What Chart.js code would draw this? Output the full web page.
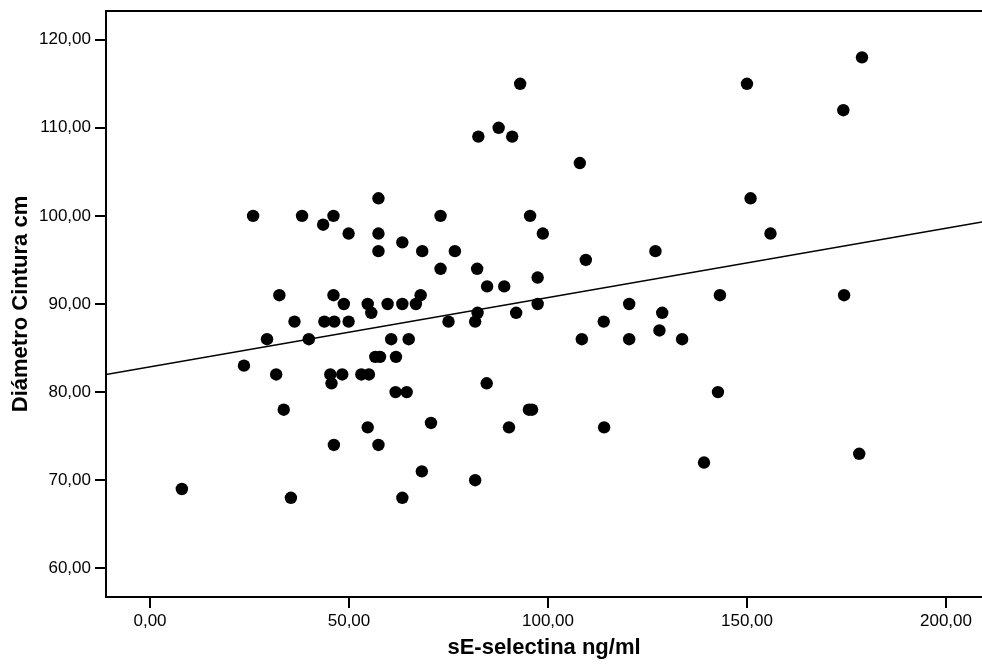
<!DOCTYPE html>
<html>
<head>
<meta charset="utf-8">
<script src="https://cdn.jsdelivr.net/npm/chart.js@4.4.0/dist/chart.umd.min.js"></script>
<style>
html,body{margin:0;padding:0;background:#ffffff;}
canvas{display:block;}
</style>
</head>
<body>
<canvas id="c" width="982" height="668"></canvas>
<script>
// ---- data ----
const xValues = [
  8.0, 23.6, 25.9, 29.4, 31.7, 32.5, 33.6, 35.4, 36.3, 38.2,
  39.9, 43.5, 43.8, 45.3, 45.6, 46.1, 46.1, 46.2, 46.3, 48.3,
  48.7, 49.9, 49.9, 53.1, 54.7, 54.7, 55.0, 55.6, 56.6, 57.4,
  57.4, 57.4, 57.4, 57.8, 59.7, 60.6, 61.8, 61.7, 63.4, 63.4,
  63.4, 64.5, 65.0, 66.8, 68.0, 68.3, 68.4, 70.6, 73.0, 73.0,
  75.0, 76.6, 81.7, 81.7, 82.3, 82.2, 82.5, 84.6, 84.7, 87.6,
  89.0, 90.2, 91.0, 92.0, 93.0, 95.2, 96.0, 95.5, 97.4, 97.4,
  98.7, 108.0, 108.5, 109.5, 114.0, 114.1, 120.4, 120.4, 127.0, 128.0,
  128.7, 133.7, 139.2, 142.7, 143.2, 150.0, 150.9, 155.9, 174.2, 174.4,
  178.2, 178.9
];
const yValues = [
  69, 83, 100, 86, 82, 91, 78, 68, 88, 100,
  86, 99, 88, 82, 81, 100, 91, 74, 88, 82,
  90, 98, 88, 82, 90, 76, 82, 89, 84, 102,
  98, 96, 74, 84, 90, 86, 84, 80, 97, 90,
  68, 80, 86, 90, 91, 71, 96, 76.5, 100, 94,
  88, 96, 88, 70, 89, 94, 109, 81, 92, 110,
  92, 76, 109, 89, 115, 78, 78, 100, 93, 90,
  98, 106, 86, 95, 88, 76, 90, 86, 96, 87,
  89, 86, 72, 80, 91, 115, 102, 98, 112, 91,
  73, 118
];
const xTicks = [0, 50, 100, 150, 200];
const yTicks = [60, 70, 80, 90, 100, 110, 120];
const xRange = [-11.06, 209.05];
const yRange = [56.74, 123.26];
const fitIntercept = 82.86;
const fitSlope = 0.0787;
const xTitle = 'sE-selectina ng/ml';
const yTitle = 'Diámetro Cintura cm';

// ---- build ----
const FONT = '"Liberation Sans", Arial, Helvetica, sans-serif';
const fmt = v => Number(v).toFixed(2).replace('.', ',');
const points = xValues.map((x, i) => ({x: x, y: yValues[i]}));
const fitLine = xRange.map(x => ({x: x, y: fitIntercept + fitSlope * x}));

// frame: top, left and bottom sides (right side lies at the canvas edge)
const framePlugin = {
  id: 'frame',
  beforeDatasetsDraw(chart) {
    const a = chart.chartArea, c = chart.ctx;
    c.save();
    c.strokeStyle = '#000';
    c.lineWidth = 2;
    c.beginPath();
    c.moveTo(chart.width + 2, a.top);
    c.lineTo(a.left, a.top);
    c.lineTo(a.left, a.bottom);
    c.lineTo(chart.width + 2, a.bottom);
    c.stroke();
    c.restore();
  }
};

new Chart(document.getElementById('c').getContext('2d'), {
  type: 'scatter',
  data: {
    datasets: [
      {
        type: 'scatter',
        data: points,
        pointRadius: 6.2,
        pointHoverRadius: 6.2,
        backgroundColor: '#000',
        borderWidth: 0,
        order: 1
      },
      {
        type: 'line',
        data: fitLine,
        borderColor: '#000',
        borderWidth: 1.5,
        pointRadius: 0,
        fill: false,
        tension: 0,
        order: 2
      }
    ]
  },
  options: {
    responsive: false,
    animation: false,
    devicePixelRatio: 1,
    layout: {autoPadding: false, padding: {left: 0, right: 0, top: 11, bottom: 0}},
    plugins: {legend: {display: false}, tooltip: {enabled: false}},
    scales: {
      x: {
        type: 'linear',
        min: xRange[0],
        max: xRange[1],
        afterBuildTicks: s => { s.ticks = xTicks.map(v => ({value: v})); },
        afterFit: s => { s.height = 71; s.paddingLeft = 0; s.paddingRight = 0; },
        grid: {drawOnChartArea: false, drawTicks: true, tickLength: 11, color: '#000', lineWidth: 2},
        border: {display: false},
        ticks: {
          font: {family: FONT, size: 17},
          color: '#000',
          padding: 3,
          maxRotation: 0,
          autoSkip: false,
          callback: v => fmt(v)
        },
        title: {
          display: true,
          text: xTitle,
          color: '#000',
          font: {family: FONT, size: 22, weight: 'bold'},
          padding: {top: 0, bottom: 7}
        }
      },
      y: {
        type: 'linear',
        min: yRange[0],
        max: yRange[1],
        afterBuildTicks: s => { s.ticks = yTicks.map(v => ({value: v})); },
        afterFit: s => { s.width = 106; s.paddingTop = 0; s.paddingBottom = 0; },
        grid: {drawOnChartArea: false, drawTicks: true, tickLength: 11, color: '#000', lineWidth: 2},
        border: {display: false},
        ticks: {
          font: {family: FONT, size: 17},
          color: '#000',
          padding: 4,
          autoSkip: false,
          callback: v => fmt(v)
        },
        title: {
          display: true,
          text: yTitle,
          color: '#000',
          font: {family: FONT, size: 22, weight: 'bold'},
          padding: {top: 8, bottom: 0}
        }
      }
    }
  },
  plugins: [framePlugin]
});
</script>
</body>
</html>
